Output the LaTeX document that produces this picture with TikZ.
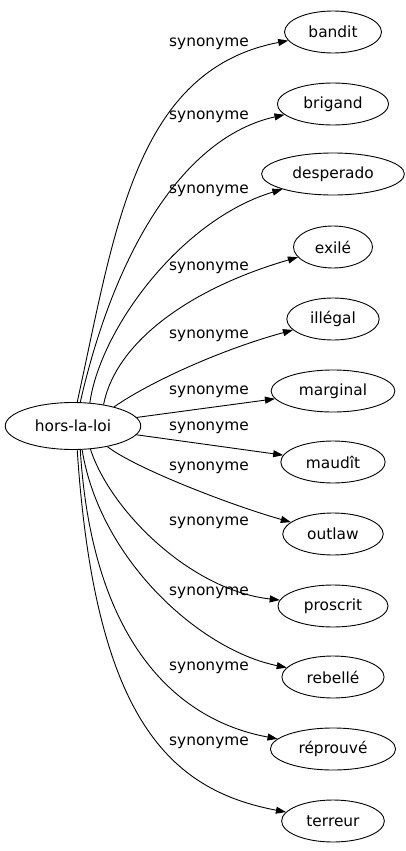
\documentclass[tikz,border=0pt]{standalone}
\usepackage{fontspec}
\setmainfont{DejaVu Sans}
\usetikzlibrary{arrows.meta, shapes.geometric}

\begin{document}
\begin{tikzpicture}[x=1pt, y=-1pt, font=\fontsize{15.4}{18}\selectfont,
    word/.style={draw, ellipse, line width=0.9pt, inner xsep=9.75pt, inner ysep=2pt, minimum height=42pt},
    syn/.style={draw, line width=0.9pt, -{Triangle[length=10pt, width=7pt]}},
    synlabel/.style={inner sep=0pt}]
    \useasboundingbox (0,0) rectangle (406,851);

    % Root word
    \node[word, minimum height=47pt] (horslaloi) at (73,426) {hors-la-loi};

    % Synonyms
    \node[word] (bandit) at (333,32) {bandit};
    \node[word] (brigand) at (333,104) {brigand};
    \node[word] (desperado) at (333,174) {desperado};
    \node[word] (exile) at (333,247) {exilé};
    \node[word] (illegal) at (333,319) {illégal};
    \node[word] (marginal) at (333,391) {marginal};
    \node[word] (maudit) at (333,462) {maudît};
    \node[word] (outlaw) at (333,534) {outlaw};
    \node[word] (proscrit) at (333,606) {proscrit};
    \node[word] (rebelle) at (333,677) {rebellé};
    \node[word] (reprouve) at (333,749) {réprouvé};
    \node[word] (terreur) at (333,821) {terreur};

    % Edges
    \draw[syn] (horslaloi.80) .. controls (115,230) and (135,70) .. (bandit);
    \draw[syn] (horslaloi.73) .. controls (115,250) and (184,137) .. (brigand);
    \draw[syn] (horslaloi.54) .. controls (100,330) and (180,220) .. (desperado);
    \draw[syn] (horslaloi.35) .. controls (115,345) and (185,290) .. (exile);
    \draw[syn] (horslaloi.25) .. controls (150,382) and (220,350) .. (illegal);
    \draw[syn] (horslaloi) -- (marginal);
    \draw[syn] (horslaloi) -- (maudit);
    \draw[syn] (horslaloi.-31) .. controls (135,468) and (230,505) .. (outlaw);
    \draw[syn] (horslaloi.-53) .. controls (110,510) and (190,590) .. (proscrit);
    \draw[syn] (horslaloi.-69) .. controls (100,560) and (200,650) .. (rebelle);
    \draw[syn] (horslaloi.-73) .. controls (92,640) and (175,720) .. (reprouve);
    \draw[syn] (horslaloi.-80) .. controls (95,720) and (170,790) .. (terreur);

    % Edge labels
    \node[synlabel] (lbandit) at (209,44) {synonyme};
    \node[synlabel] (lbrigand) at (209,117) {synonyme};
    \node[synlabel] (ldesperado) at (209,191) {synonyme};
    \node[synlabel] (lexile) at (209,268) {synonyme};
    \node[synlabel] (lillegal) at (209,336) {synonyme};
    \node[synlabel] (lmarginal) at (209,392) {synonyme};
    \node[synlabel] (lmaudit) at (209,428) {synonyme};
    \node[synlabel] (loutlaw) at (209,468) {synonyme};
    \node[synlabel] (lproscrit) at (209,523) {synonyme};
    \node[synlabel] (lrebelle) at (209,593) {synonyme};
    \node[synlabel] (lreprouve) at (209,668) {synonyme};
    \node[synlabel] (lterreur) at (209,743) {synonyme};
\end{tikzpicture}
\end{document}
